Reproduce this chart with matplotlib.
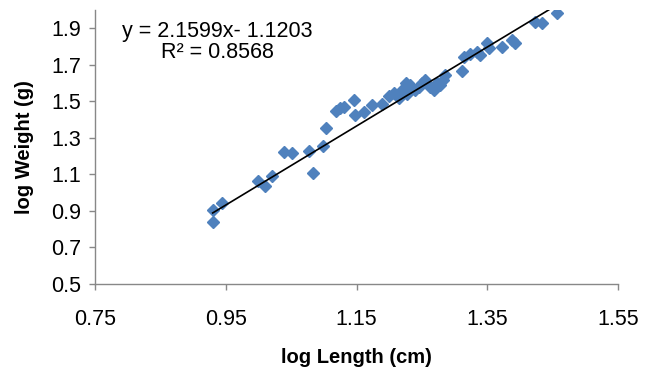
import matplotlib
matplotlib.use('Agg')
import matplotlib.pyplot as plt
import numpy as np

plt.rcParams['font.family'] = ['Liberation Sans', 'DejaVu Sans']

# log length (cm) / log weight (g)
log_length = [0.930, 0.930, 0.945, 1.000, 1.010, 1.021, 1.039, 1.052, 1.077, 1.083,
              1.098, 1.104, 1.118, 1.124, 1.131, 1.146, 1.148, 1.161, 1.174, 1.189,
              1.200, 1.207, 1.215, 1.220, 1.225, 1.228, 1.232, 1.240, 1.245, 1.250,
              1.255, 1.263, 1.268, 1.273, 1.278, 1.283, 1.286, 1.311, 1.314, 1.324,
              1.334, 1.339, 1.350, 1.352, 1.372, 1.388, 1.393, 1.423, 1.434, 1.456]
log_weight = [0.840, 0.904, 0.941, 1.064, 1.036, 1.090, 1.223, 1.217, 1.227, 1.105,
              1.255, 1.355, 1.447, 1.462, 1.469, 1.505, 1.423, 1.441, 1.478, 1.482,
              1.530, 1.545, 1.515, 1.560, 1.597, 1.540, 1.587, 1.560, 1.575, 1.600,
              1.615, 1.578, 1.560, 1.597, 1.590, 1.615, 1.642, 1.665, 1.742, 1.760,
              1.770, 1.751, 1.815, 1.788, 1.797, 1.833, 1.815, 1.933, 1.925, 1.983]

slope = 2.1599
intercept = -1.1203
r2 = 0.8568

x_ticks = [0.75, 0.95, 1.15, 1.35, 1.55]
y_ticks = [0.5, 0.7, 0.9, 1.1, 1.3, 1.5, 1.7, 1.9]

fig = plt.figure(figsize=(6.56, 3.71), dpi=100)
ax = fig.add_axes([0.1448, 0.2345, 0.7973, 0.7395])

ax.plot(log_length, log_weight, 'D', color='#4F81BD', ms=6.5, mec='#4F81BD', zorder=2)

# 선형 추세선
xs = np.array([min(log_length), max(log_length)])
ax.plot(xs, slope * xs + intercept, color='black', lw=1.2, zorder=3)

fig.text(0.331, 0.901, f'y = {slope}x- {-intercept}', ha='center', va='baseline', fontsize=15.5)
fig.text(0.331, 0.843, f'R² = {r2}', ha='center', va='baseline', fontsize=15.5)

ax.set_xlim(0.75, 1.55)
ax.set_ylim(0.5, 2.0)
ax.set_xticks(x_ticks)
ax.set_yticks(y_ticks)
ax.set_xticklabels([f'{v:.2f}' for v in x_ticks])
ax.set_yticklabels([f'{v:.1f}' for v in y_ticks])

for s in ['top', 'right']:
    ax.spines[s].set_visible(False)
for s in ['left', 'bottom']:
    ax.spines[s].set_color('#888888')
    ax.spines[s].set_linewidth(1.0)
ax.tick_params(axis='both', colors='#888888', labelcolor='black', labelsize=15.5,
               length=4, width=1.0)
ax.tick_params(axis='x', pad=14)
ax.tick_params(axis='y', pad=6)

ax.set_xlabel('log Length (cm)', fontsize=14.5, fontweight='bold', labelpad=13)
ax.set_ylabel('log Weight (g)', fontsize=14.5, fontweight='bold', labelpad=12)

fig.savefig('out.png', dpi=100)
